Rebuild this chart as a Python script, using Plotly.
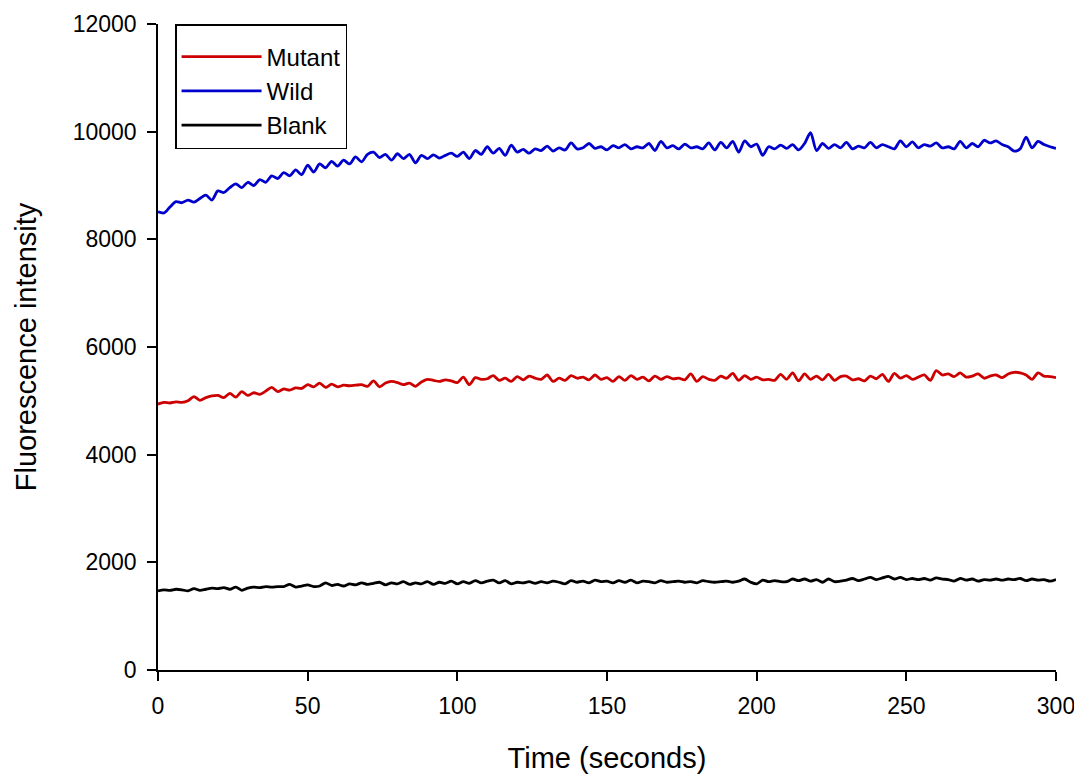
import plotly.graph_objects as go

time_s = list(range(0, 301, 2))

wild = [8510, 8490, 8600, 8700, 8680, 8730, 8690, 8760, 8820, 8730,
        8900, 8870, 8960, 9030, 8960, 9060, 9000, 9110, 9060, 9180,
        9130, 9240, 9180, 9290, 9200, 9380, 9250, 9400, 9330, 9450,
        9360, 9470, 9400, 9530, 9440, 9580, 9620, 9520, 9580, 9470,
        9590, 9500, 9580, 9420, 9560, 9500, 9570, 9510, 9560, 9600,
        9540, 9620, 9500, 9650, 9580, 9720, 9600, 9690, 9560, 9750,
        9620, 9670, 9600, 9680, 9650, 9730, 9640, 9700, 9660, 9790,
        9680, 9700, 9780, 9690, 9720, 9660, 9740, 9700, 9760, 9680,
        9720, 9700, 9780, 9650, 9820, 9700, 9740, 9680, 9770, 9700,
        9720, 9680, 9790, 9660, 9800, 9700, 9820, 9620, 9830, 9720,
        9770, 9560, 9720, 9680, 9750, 9690, 9760, 9660, 9780, 9980,
        9650, 9780, 9690, 9760, 9700, 9800, 9680, 9730, 9700, 9800,
        9700, 9760, 9720, 9680, 9830, 9720, 9810, 9700, 9760, 9730,
        9790, 9700, 9720, 9680, 9820, 9700, 9780, 9720, 9840, 9790,
        9830, 9760, 9720, 9640, 9680, 9900, 9700, 9820, 9760, 9720,
        9690]

mutant = [4940, 4970, 4960, 4980, 4970, 5000, 5080, 5010, 5060, 5090,
          5100, 5060, 5140, 5070, 5170, 5100, 5150, 5120, 5180, 5250,
          5170, 5220, 5200, 5240, 5230, 5300, 5260, 5330, 5250, 5310,
          5260, 5290, 5280, 5290, 5300, 5270, 5370, 5260, 5330, 5360,
          5340, 5300, 5330, 5270, 5350, 5400, 5380, 5360, 5390, 5370,
          5340, 5440, 5300, 5430, 5400, 5410, 5470, 5380, 5420, 5360,
          5450, 5390, 5460, 5420, 5400, 5480, 5360, 5420, 5380, 5470,
          5420, 5440, 5390, 5480, 5400, 5430, 5360, 5450, 5380, 5470,
          5400, 5440, 5370, 5460, 5400, 5450, 5410, 5420, 5390, 5500,
          5360, 5450, 5400, 5380, 5460, 5420, 5510, 5380, 5470, 5400,
          5440, 5390, 5400, 5380, 5490, 5400, 5520, 5370, 5500, 5400,
          5460, 5390, 5490, 5380, 5450, 5460, 5390, 5410, 5370, 5460,
          5410, 5490, 5360, 5510, 5420, 5470, 5400, 5440, 5480, 5380,
          5560, 5480, 5500, 5450, 5520, 5440, 5460, 5500, 5420, 5460,
          5480, 5430, 5500, 5530, 5520, 5480, 5400, 5520, 5460, 5450,
          5430]

blank = [1470, 1490, 1480, 1500, 1490, 1470, 1510, 1480, 1500, 1520,
         1510, 1530, 1500, 1540, 1480, 1520, 1540, 1530, 1550, 1540,
         1550, 1550, 1590, 1540, 1560, 1580, 1550, 1560, 1620, 1570,
         1590, 1560, 1600, 1580, 1620, 1590, 1610, 1630, 1580, 1620,
         1600, 1640, 1590, 1620, 1600, 1640, 1590, 1630, 1610, 1650,
         1600, 1640, 1610, 1660, 1620, 1650, 1670, 1620, 1660, 1600,
         1630, 1620, 1640, 1610, 1640, 1620, 1650, 1630, 1600, 1660,
         1630, 1650, 1620, 1670, 1640, 1650, 1620, 1660, 1630, 1670,
         1620, 1650, 1640, 1620, 1660, 1630, 1640, 1650, 1630, 1640,
         1620, 1660, 1640, 1630, 1640, 1650, 1630, 1650, 1690, 1630,
         1600, 1670, 1640, 1660, 1640, 1640, 1690, 1660, 1690, 1650,
         1680, 1630, 1690, 1640, 1650, 1670, 1700, 1660, 1690, 1720,
         1680, 1710, 1740, 1690, 1720, 1680, 1700, 1680, 1700, 1670,
         1710, 1690, 1680, 1650, 1700, 1670, 1690, 1650, 1680, 1670,
         1690, 1670, 1690, 1680, 1700, 1660, 1690, 1670, 1680, 1650,
         1680]

series_names = ["Mutant", "Wild", "Blank"]
series_colors = ["#CC0000", "#0000CC", "#000000"]
series_values = [mutant, wild, blank]

x_ticks = [0, 50, 100, 150, 200, 250, 300]
y_ticks = [0, 2000, 4000, 6000, 8000, 10000, 12000]
y_tick_labels = ["0", "2000", "4000", "6000", "8000", "10000", "12000"]

FONT = "Liberation Sans, Arial, sans-serif"

fig = go.Figure()
for name, color, vals in zip(series_names, series_colors, series_values):
    fig.add_trace(go.Scatter(
        x=time_s[:len(vals)], y=vals, mode="lines", name=name,
        line=dict(color=color, width=2.8, shape="spline", smoothing=0.8),
    ))

fig.update_layout(
    width=1074, height=770,
    margin=dict(l=150, r=26, t=16, b=108),
    paper_bgcolor="white", plot_bgcolor="white",
    font=dict(family=FONT, size=23, color="black"),
    showlegend=True,
    legend=dict(
        x=0.019, y=1.0, xanchor="left", yanchor="top",
        bordercolor="black", borderwidth=1.5, bgcolor="white",
        font=dict(size=24, family=FONT),
        itemwidth=80,
        entrywidth=180,
        title=dict(text="&nbsp;", font=dict(size=7)),
    ),
    xaxis=dict(
        range=[0, 300], tickvals=x_ticks, ticks="outside", ticklen=9,
        tickwidth=1.5, tickcolor="black", showline=True, linecolor="black",
        linewidth=1.5, showgrid=False, zeroline=False, automargin=False,
        ticklabelstandoff=6,
        title=dict(text="Time (seconds)", font=dict(size=29), standoff=29),
        tickfont=dict(size=23),
    ),
    yaxis=dict(
        range=[0, 12000], tickvals=y_ticks, ticktext=y_tick_labels,
        ticks="outside", ticklen=9,
        tickwidth=1.5, tickcolor="black", showline=True, linecolor="black",
        linewidth=1.5, showgrid=False, zeroline=False, automargin=False,
        ticklabelstandoff=6,
        title=dict(text="Fluorescence intensity", font=dict(size=29), standoff=28),
        tickfont=dict(size=23),
    ),
)

fig.write_html("out.html")
